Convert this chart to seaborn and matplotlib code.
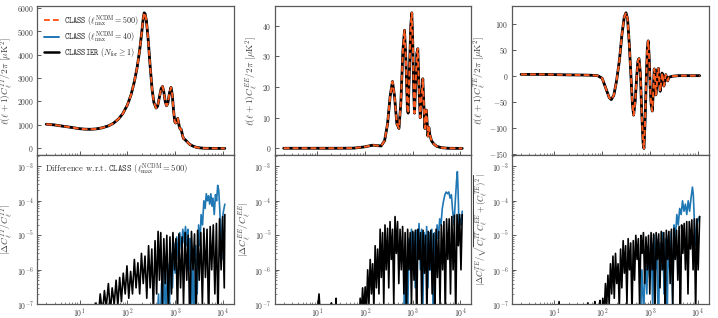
import numpy as np
import matplotlib
matplotlib.use("Agg")
import matplotlib.pyplot as plt
from matplotlib.lines import Line2D
import seaborn as sns

# ---- top row: spectra (all three codes coincide by eye) ----
ell_tt = [2, 3, 4, 6, 8, 10, 13, 17, 22, 30, 40, 50, 65, 80, 100, 120, 140, 160, 180, 200,
          215, 225, 235, 250, 270, 300, 330, 360, 400, 430, 470, 510, 545, 580, 620, 660,
          700, 760, 820, 870, 920, 980, 1030, 1080, 1130, 1180, 1230, 1280, 1330, 1380,
          1430, 1500, 1600, 1700, 1850, 2000, 2300, 2700, 3200, 4000, 5000, 7000, 11000]
dl_tt = [1030, 1000, 960, 910, 870, 840, 820, 815, 830, 880, 960, 1060, 1250, 1480, 1850,
         2300, 2850, 3450, 4150, 4950, 5550, 5780, 5740, 5450, 4750, 3500, 2500, 1950, 1720,
         1800, 2200, 2550, 2640, 2400, 2000, 1820, 1900, 2350, 2600, 2300, 1700, 1150, 1080,
         1200, 1280, 1100, 900, 820, 830, 700, 550, 420, 380, 330, 250, 180, 110, 55, 25, 8,
         3, 1, 0]

ell_ee = [2, 10, 30, 60, 100, 130, 150, 180, 220, 260, 300, 340, 380, 420, 470, 520, 570,
          630, 680, 730, 780, 810, 860, 920, 965, 1010, 1060, 1100, 1160, 1230, 1290, 1350,
          1450, 1540, 1640, 1730, 1820, 1900, 1950, 2030, 2100, 2200, 2300, 2500, 2800, 3200,
          4000, 5500, 11000]
dl_ee = [0.05, 0.05, 0.05, 0.1, 0.5, 0.9, 1.05, 0.9, 0.8, 2.5, 8, 17, 21.8, 17, 8, 6.5, 15,
         32, 38.5, 28, 13, 11.5, 25, 40, 44.2, 35, 18, 11.5, 20, 31, 32.5, 22, 10, 16, 22.7,
         14, 6.5, 11, 12.5, 8, 4, 6.8, 4.5, 2.5, 1.4, 0.7, 0.25, 0.05, 0]

ell_te = [2, 5, 10, 20, 40, 60, 80, 100, 120, 140, 155, 175, 200, 230, 260, 290, 315, 340,
          370, 400, 430, 455, 490, 530, 560, 590, 630, 680, 720, 750, 790, 840, 880, 920, 960,
          1010, 1060, 1120, 1170, 1230, 1280, 1330, 1390, 1450, 1510, 1570, 1640, 1720, 1800,
          1880, 1960, 2050, 2150, 2250, 2350, 2500, 3000, 4000, 11000]
dl_te = [2.5, 2.5, 2, 1.5, 1.2, 0.8, 0, -5, -25, -42, -46, -38, -10, 30, 80, 113, 121, 110,
         60, 0, -55, -76, -50, 0, 28, 33, 5, -80, -130, -140, -90, -5, 50, 67, 40, -20, -55,
         -68, -35, 13, 0, -37, -20, 12, 14, -10, -30, -12, 5, -5, -20, -8, 2, -5, -10, -3, -1,
         0, 0]

# ---- bottom row: relative differences ----
ell_tt_cl40 = [400, 450, 480, 520, 560, 600, 640, 700, 760, 820, 880, 940, 1000, 1080, 1160,
               1250, 1350, 1450, 1550, 1650, 1750, 1850, 1950, 2050, 2200, 2350, 2500, 2700,
               2900, 3100, 3300, 3500, 3750, 4000, 4250, 4500, 4750, 5000, 5300, 5600, 5900,
               6200, 6600, 7000, 7400, 7800, 8200, 8600, 9000, 9400, 9800, 10300, 11000]
d_tt_cl40 = [1e-8, 2e-7, 1e-8, 4e-7, 3e-8, 1e-6, 5e-8, 1.5e-6, 1e-7, 3e-6, 3e-7, 6e-6, 8e-7,
             9e-6, 2e-6, 1.2e-5, 4e-6, 1.5e-5, 6e-6, 1.8e-5, 5e-6, 1.5e-5, 1e-6, 8e-6, 5e-8,
             3e-6, 1e-8, 5e-6, 2e-7, 2e-5, 5e-6, 4e-5, 2e-5, 1e-4, 6e-5, 1.6e-4, 1e-4, 1.4e-4,
             8e-5, 1.6e-4, 7e-5, 1.2e-4, 4e-5, 1.5e-4, 1e-4, 2.8e-4, 2e-4, 6e-5, 1e-5, 2e-6,
             3e-5, 5e-5, 8e-5]
ell_tt_cls = [18, 20, 22, 24, 27, 30, 33, 36, 40, 44, 48, 53, 58, 63, 69, 75, 82, 90, 98, 107,
              117, 128, 140, 152, 166, 181, 197, 215, 234, 255, 278, 300, 325, 350, 380, 410,
              440, 470, 500, 540, 580, 620, 670, 720, 780, 840, 900, 970, 1040, 1120, 1200,
              1300, 1400, 1500, 1620, 1750, 1880, 2030, 2200, 2370, 2550, 2750, 2960, 3200,
              3450, 3720, 4000, 4320, 4660, 5020, 5420, 5840, 6300, 6800, 7330, 7900, 8520,
              9190, 9910, 10700, 11000]
d_tt_cls = [1e-8, 5e-8, 1.1e-7, 3e-8, 2e-7, 5e-8, 2.5e-7, 8e-8, 4e-7, 6e-8, 3e-7, 1e-7, 5e-7,
            9e-8, 6e-7, 1.2e-7, 8e-7, 2e-7, 1.3e-6, 1.5e-7, 9e-7, 2e-7, 2e-6, 3e-7, 1.6e-6,
            2e-7, 3e-6, 4e-7, 2.5e-6, 1.5e-7, 5e-6, 3e-7, 4e-6, 6e-8, 7e-6, 2e-7, 1.3e-5, 5e-7,
            1.2e-5, 1e-7, 8e-6, 4e-7, 1e-5, 5e-8, 9e-6, 2e-7, 1.2e-5, 1e-6, 8e-6, 5e-8, 1.1e-5,
            3e-7, 9e-6, 1e-7, 1.2e-5, 5e-7, 1e-5, 2e-8, 1.3e-5, 1e-6, 1.1e-5, 4e-8, 1.4e-5,
            5e-7, 1.2e-5, 1e-7, 1.6e-5, 6e-7, 1.5e-5, 3e-8, 1.8e-5, 1e-6, 2e-5, 2e-7, 2.2e-5,
            4e-8, 3e-5, 1e-6, 3.5e-5, 3e-7, 4e-5]

ell_ee_cl40 = [550, 600, 640, 680, 720, 760, 800, 850, 900, 950, 1010, 1070, 1140, 1210, 1290,
               1370, 1460, 1550, 1650, 1750, 1860, 1980, 2100, 2240, 2380, 2540, 2700, 2880,
               3070, 3270, 3480, 3710, 3950, 4200, 4470, 4760, 5070, 5400, 5750, 6120, 6520,
               6940, 7390, 7870, 8380, 8700, 9000, 9400, 9900, 10400, 11000]
d_ee_cl40 = [1e-8, 8e-8, 1e-8, 5e-7, 2e-8, 2e-6, 1e-7, 8e-6, 1e-6, 1.5e-5, 2e-6, 1.2e-5, 3e-7,
             1.4e-5, 3e-6, 2.2e-5, 1e-6, 1.5e-5, 1e-7, 1.2e-5, 2e-6, 1.8e-5, 3e-7, 1.2e-5, 1e-6,
             1.5e-5, 5e-8, 1.2e-5, 2e-6, 2e-5, 8e-6, 3e-5, 2e-5, 6e-5, 1e-4, 1.5e-4, 1.8e-4,
             1.6e-4, 1.8e-4, 1.2e-4, 1.5e-4, 5e-5, 2e-5, 1e-4, 4e-4, 7e-4, 2e-4, 2e-5, 3e-5,
             2e-5, 5e-5]
ell_ee_cls = [9, 11, 12.5, 19, 20, 21, 24, 25, 26.5, 75, 80, 85, 90, 95, 102, 108, 115, 122,
              130, 138, 146, 155, 165, 175, 186, 198, 210, 222, 236, 250, 265, 282, 300, 318,
              338, 360, 382, 405, 430, 458, 486, 516, 548, 582, 620, 660, 700, 745, 790, 840,
              895, 950, 1010, 1075, 1145, 1220, 1300, 1380, 1470, 1560, 1660, 1770, 1880, 2000,
              2130, 2270, 2420, 2580, 2750, 2930, 3120, 3320, 3540, 3770, 4010, 4270, 4550,
              4850, 5170, 5500, 5860, 6240, 6650, 7080, 7540, 8030, 8560, 9120, 9710, 10350,
              11000]
d_ee_cls = [1e-8, 2e-7, 1e-8, 1e-8, 1.1e-7, 1e-8, 1e-8, 1.5e-7, 1e-8, 1e-8, 1.5e-7, 5e-8,
            3e-7, 6e-8, 3.2e-7, 5e-8, 1e-6, 1e-7, 2e-6, 2e-7, 1.5e-6, 8e-8, 5e-6, 3e-7, 4e-6,
            2e-7, 1.5e-5, 6e-7, 1.2e-5, 1e-7, 2e-5, 1e-6, 1.6e-5, 3e-7, 2.5e-5, 2e-6, 1.5e-5,
            1e-7, 3.5e-5, 3e-6, 2.5e-5, 4e-7, 1.5e-5, 1e-6, 1.8e-5, 2e-7, 1.2e-5, 4e-8, 1.5e-5,
            1e-6, 1.2e-5, 1e-7, 1.3e-5, 5e-7, 1.4e-5, 3e-8, 1.5e-5, 2e-6, 1.2e-5, 1e-7, 1.4e-5,
            8e-7, 1e-5, 5e-8, 1.3e-5, 1e-6, 1.4e-5, 2e-7, 1.1e-5, 3e-8, 1.5e-5, 6e-7, 1.3e-5,
            1e-7, 2e-5, 1e-6, 2.5e-5, 5e-8, 3e-5, 2e-6, 3e-5, 2e-7, 3.5e-5, 1e-6, 3.8e-5, 4e-8,
            4e-5, 5e-6, 4e-5, 1e-6, 4e-5]

ell_te_cl40 = [500, 560, 620, 680, 740, 800, 860, 920, 990, 1060, 1140, 1220, 1310, 1400, 1500,
               1610, 1730, 1850, 1980, 2120, 2270, 2430, 2600, 2790, 2990, 3200, 3420, 3660,
               3920, 4200, 4500, 4820, 5160, 5520, 5910, 6330, 6780, 7260, 7770, 8100, 8500,
               9000, 9600, 10300, 11000]
d_te_cl40 = [1e-8, 1e-7, 1e-8, 1e-6, 5e-8, 2.5e-6, 2e-7, 5e-6, 6e-7, 8e-6, 1e-7, 1e-5, 1e-6,
             8e-6, 1e-8, 6e-6, 1e-6, 1.2e-5, 2e-7, 8e-6, 1e-8, 1e-5, 1e-6, 1.3e-5, 1e-7, 2e-5,
             8e-6, 4e-5, 2e-5, 6e-5, 4e-5, 1e-4, 5e-5, 8e-5, 4e-5, 1e-4, 5e-5, 1.2e-4, 2.5e-4,
             1.5e-4, 3e-5, 5e-6, 2e-5, 3e-5, 3.5e-5]
ell_te_cls = [11, 12.5, 14, 45, 50, 55, 65, 70, 75, 85, 90, 96, 103, 110, 117, 124, 132, 140,
              149, 158, 168, 179, 190, 202, 215, 228, 243, 258, 275, 292, 310, 330, 350, 373,
              396, 421, 448, 476, 506, 538, 572, 608, 647, 688, 731, 778, 827, 879, 935, 994,
              1057, 1124, 1195, 1271, 1351, 1437, 1528, 1625, 1728, 1837, 1953, 2077, 2208,
              2348, 2497, 2655, 2823, 3002, 3192, 3394, 3609, 3838, 4081, 4339, 4614, 4906,
              5217, 5547, 5898, 6272, 6669, 7091, 7540, 8018, 8526, 9065, 9639, 10250, 11000]
d_te_cls = [1e-8, 1.2e-7, 1e-8, 1e-8, 1.1e-7, 1e-8, 1e-8, 1.2e-7, 1e-8, 1e-8, 1.3e-7, 2e-8,
            1.5e-7, 5e-8, 4e-7, 8e-8, 7e-7, 1e-7, 1.5e-6, 2e-7, 2.5e-6, 1.5e-7, 3e-6, 4e-7,
            1.5e-6, 8e-8, 4e-6, 3e-7, 7e-6, 8e-7, 5e-6, 1e-7, 8e-6, 1e-6, 6e-6, 5e-8, 7e-6,
            5e-7, 1e-5, 2e-6, 8e-6, 1e-7, 1e-5, 3e-6, 1.2e-5, 4e-7, 9e-6, 1e-6, 1e-5, 2e-7,
            1.2e-5, 1e-6, 1.1e-5, 4e-8, 1.2e-5, 2e-6, 1.1e-5, 3e-7, 1.3e-5, 1e-6, 1.2e-5, 5e-8,
            1.4e-5, 2e-6, 1.3e-5, 4e-7, 1.5e-5, 1e-7, 1.6e-5, 2e-6, 1.4e-5, 5e-7, 1.8e-5, 3e-8,
            2e-5, 3e-6, 2.2e-5, 1e-6, 2.5e-5, 2e-7, 2.5e-5, 4e-6, 2.8e-5, 1e-6, 3e-5, 5e-8,
            3e-5, 1e-6, 3.5e-5]

c_ref = '#ff5a1f'
c_40 = '#1f77b4'
c_new = 'black'
lab_ref = r'$\mathtt{CLASS}$ $(\ell_{\rm max}^{\rm NCDM}=500)$'
lab_40 = r'$\mathtt{CLASS}$ $(\ell_{\rm max}^{\rm NCDM}=40)$'
lab_new = r'$\mathtt{CLASSIER}$ $(N_{\rm for}\geq 1)$'

sns.set_theme(style='ticks')
plt.rcParams.update({
    'font.family': 'serif',
    'font.serif': ['cmr10', 'DejaVu Serif'],
    'mathtext.fontset': 'cm',
    'axes.formatter.use_mathtext': True,
    'axes.unicode_minus': True,
    'xtick.direction': 'in',
    'ytick.direction': 'in',
    'axes.edgecolor': '0.35',
    'xtick.color': '0.35',
    'ytick.color': '0.35',
    'xtick.labelcolor': '0.25',
    'ytick.labelcolor': '0.25',
    'xtick.labelsize': 5.6,
    'ytick.labelsize': 5.6,
    'xtick.major.pad': 1.5,
    'ytick.major.pad': 2.5,
    'axes.labelsize': 6.8,
    'axes.labelcolor': '0.25',
    'axes.linewidth': 0.9,
})

fig, axes = plt.subplots(2, 3, figsize=(7.18, 3.18), dpi=100, sharex=True)
fig.subplots_adjust(left=0.052, right=0.987, top=0.981, bottom=0.043, hspace=0, wspace=0.208)

dash = (3, 1.6)
top = [(ell_tt, dl_tt, 'TT'), (ell_ee, dl_ee, 'EE'), (ell_te, dl_te, 'TE')]
for ax, (ell, dl, s) in zip(axes[0], top):
    sns.lineplot(x=ell, y=dl, ax=ax, color=c_40, lw=1.4, sort=False, estimator=None)
    sns.lineplot(x=ell, y=dl, ax=ax, color=c_new, lw=2.0, sort=False, estimator=None)
    sns.lineplot(x=ell, y=dl, ax=ax, color=c_ref, lw=1.4, dashes=False, sort=False,
                 estimator=None).lines[-1].set_dashes(dash)
    ax.set_ylabel(r'$\ell(\ell+1)C_\ell^{%s}/2\pi\ [\mu{\rm K}^2]$' % s, labelpad=1)

handles = [Line2D([], [], color=c_ref, lw=1.4, dashes=dash),
           Line2D([], [], color=c_40, lw=1.4),
           Line2D([], [], color=c_new, lw=1.8)]
axes[0, 0].legend(handles, [lab_ref, lab_40, lab_new], loc='upper left', frameon=False,
                  fontsize=5.8, handlelength=1.8, handletextpad=0.7, borderaxespad=0.45,
                  labelspacing=0.2)

bottom = [(ell_tt_cl40, d_tt_cl40, ell_tt_cls, d_tt_cls,
           r'$|\Delta C_\ell^{TT}/C_\ell^{TT}|$'),
          (ell_ee_cl40, d_ee_cl40, ell_ee_cls, d_ee_cls,
           r'$|\Delta C_\ell^{EE}/C_\ell^{EE}|$'),
          (ell_te_cl40, d_te_cl40, ell_te_cls, d_te_cls,
           r'$|\Delta C_\ell^{TE}/\sqrt{C_\ell^{TT}C_\ell^{EE}+(C_\ell^{TE})^2}|$')]
for ax, (e40, d40, ecl, dcl, lab) in zip(axes[1], bottom):
    sns.lineplot(x=e40, y=d40, ax=ax, color=c_40, lw=1.2, sort=False, estimator=None)
    sns.lineplot(x=ecl, y=dcl, ax=ax, color=c_new, lw=1.2, sort=False, estimator=None)
    ax.set_yscale('log')
    ax.set_ylim(1e-7, 2.1e-3)
    ax.set_ylabel(lab, labelpad=1)

axes[1, 0].text(0.04, 0.955, r'Difference w.r.t. $\mathtt{CLASS}$ $(\ell_{\rm max}^{\rm NCDM}=500)$',
                transform=axes[1, 0].transAxes, va='top', ha='left', fontsize=6.2, color='0.2')
axes[1, 2].yaxis.label.set_size(6.2)

axes[1, 0].set_xscale('log')
axes[1, 0].set_xlim(1.3, 17000)
for ax in axes.flat:
    ax.set_xlabel('')
    ax.tick_params(which='major', length=3, width=0.7)
    ax.tick_params(which='minor', length=1.5, width=0.5)
    ax.set_xticks([10, 100, 1000, 10000])

fig.savefig('out.png', dpi=100)
